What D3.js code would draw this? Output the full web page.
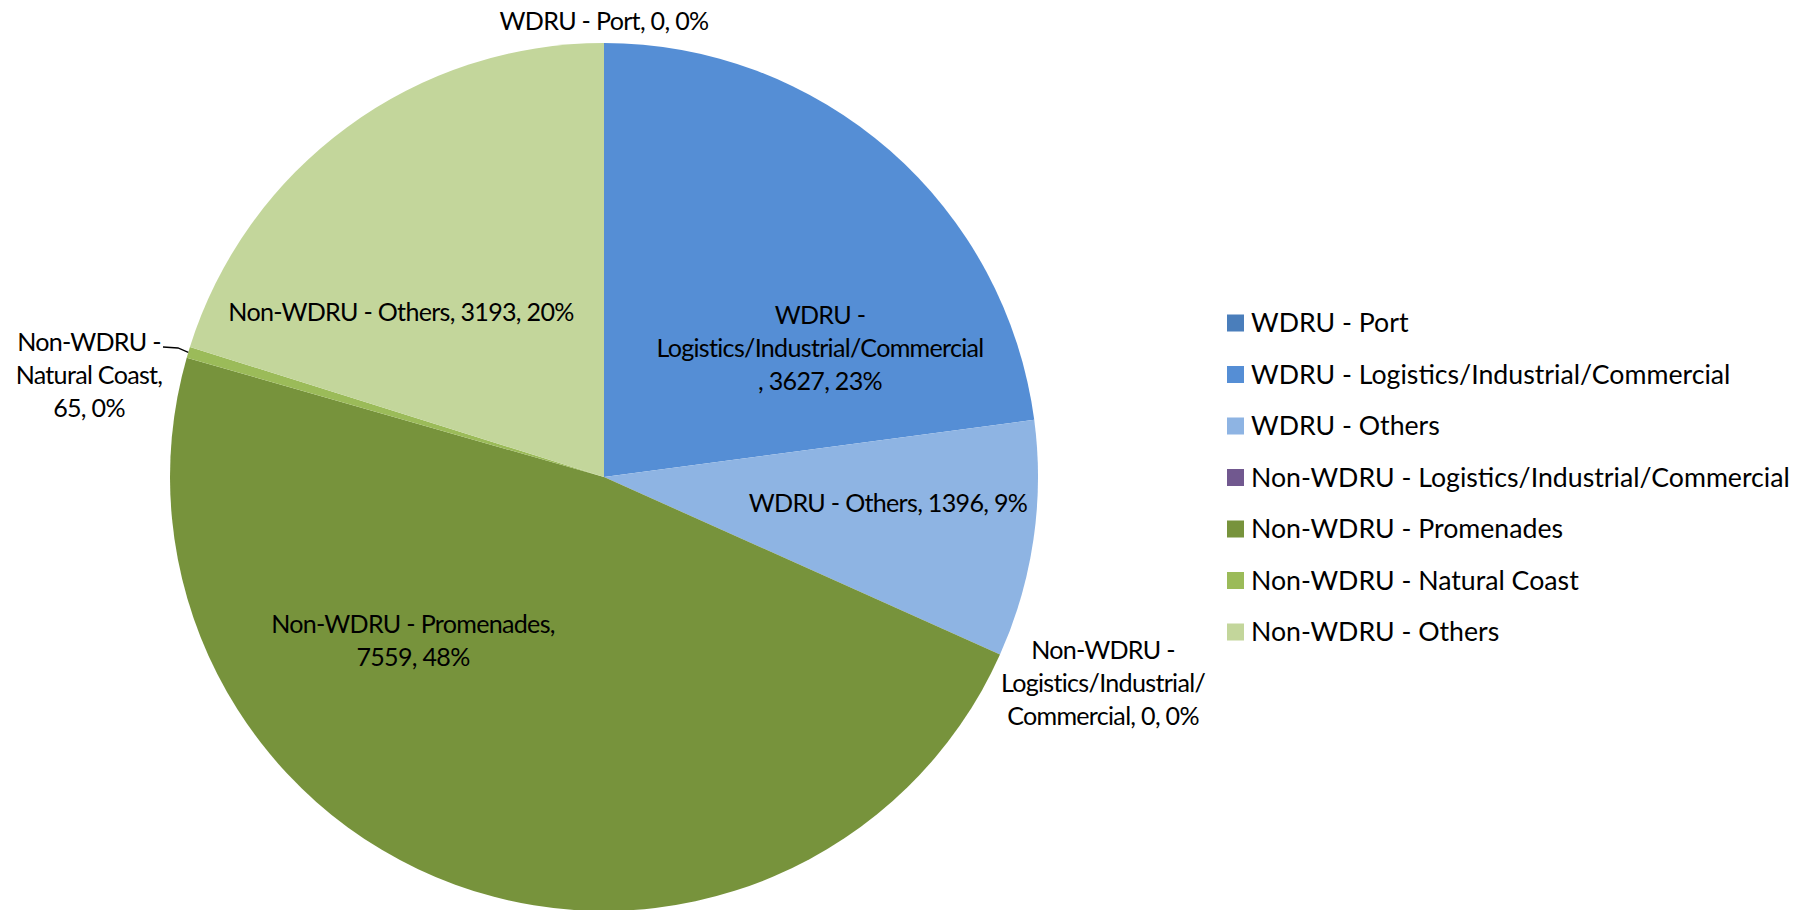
<!DOCTYPE html>
<html>
<head>
<meta charset="utf-8">
<script src="https://cdn.jsdelivr.net/npm/d3@7"></script>
<style>
  body { margin: 0; background: #fff; }
  text { font-family: Lato, "Noto Sans", sans-serif; fill: #000; }
</style>
</head>
<body>
<div id="chart"></div>
<script>
// data
var categories = [
	"WDRU - Port",
	"WDRU - Logistics/Industrial/Commercial",
	"WDRU - Others",
	"Non-WDRU - Logistics/Industrial/Commercial",
	"Non-WDRU - Promenades",
	"Non-WDRU - Natural Coast",
	"Non-WDRU - Others"
]
var values = [0, 3627, 1396, 0, 7559, 65, 3193]
var colours = ["#4a7ebb", "#558ed5", "#8eb4e3", "#71588f", "#77933c", "#9bbb59", "#c3d69b"]

// label lines as Excel wrapped them
var labelLines = [
	["WDRU - Port, 0, 0%"],
	["WDRU -", "Logistics/Industrial/Commercial", ", 3627, 23%"],
	["WDRU - Others, 1396, 9%"],
	["Non-WDRU -", "Logistics/Industrial/", "Commercial, 0, 0%"],
	["Non-WDRU - Promenades,", "7559, 48%"],
	["Non-WDRU -", "Natural Coast,", "65, 0%"],
	["Non-WDRU - Others, 3193, 20%"]
]
// label block centres, relative to pie centre
var labelOffsets = [[0, -456], [216, -129], [284, 26], [499, 206], [-191, 164], [-515, -102], [-203, -165]]

var width = 1805, height = 910
var cx = 604, cy = 477, radius = 434
var lineH = 33

var svg = d3.select("#chart").append("svg")
	.attr("width", width)
	.attr("height", height)

// fit font size so the longest legend entry is as wide as in the original
var probe = svg.append("text").style("font-size", "100px").text(categories[3])
var probeW = probe.node().getComputedTextLength()
probe.remove()
var fontSize = 100 * 539 / probeW
var labelSize = fontSize * 0.94

var pie = d3.pie().value(d => d).sort(null)
var arc = d3.arc().innerRadius(0).outerRadius(radius)
var arcs = pie(values)

var g = svg.append("g").attr("transform", "translate(" + cx + "," + cy + ")")

g.selectAll("path")
	.data(arcs)
	.enter().append("path")
		.attr("fill", (d, i) => colours[i])
		.attr("d", arc)

// leader line for the thin natural coast slice
var nc = arcs[5]
var ncMid = (nc.startAngle + nc.endAngle) / 2
var edge = [radius * Math.sin(ncMid), -radius * Math.cos(ncMid)]
g.append("path")
	.attr("fill", "none")
	.attr("stroke", "#000")
	.attr("stroke-width", 1.3)
	.attr("d", d3.line()([[labelOffsets[5][0] + 74, labelOffsets[5][1] - 28], [labelOffsets[5][0] + 89, labelOffsets[5][1] - 27], edge]))

var labels = g.selectAll(".lbl")
	.data(labelLines)
	.enter().append("text")
		.attr("class", "lbl")
		.attr("text-anchor", "middle")
		.style("font-size", labelSize + "px")
		.style("letter-spacing", "-0.7px")
		.attr("transform", (d, i) => "translate(" + labelOffsets[i] + ")")

labels.selectAll("tspan")
	.data(d => d.map((t, j) => ({t: t, j: j, n: d.length})))
	.enter().append("tspan")
		.attr("x", 0)
		.attr("y", d => (d.j - (d.n - 1) / 2) * lineH)
		.attr("dy", "0.35em")
		.text(d => d.t)

// legend
var legend = svg.append("g").attr("transform", "translate(1227,323)")
var rows = legend.selectAll("g")
	.data(categories)
	.enter().append("g")
		.attr("transform", (d, i) => "translate(0," + i * 51.5 + ")")

rows.append("rect")
	.attr("x", 0).attr("y", -8.5)
	.attr("width", 17).attr("height", 17)
	.attr("fill", (d, i) => colours[i])

rows.append("text")
	.attr("x", 24)
	.attr("dy", "0.35em")
	.style("font-size", fontSize + "px")
	.text(d => d)
</script>
</body>
</html>
